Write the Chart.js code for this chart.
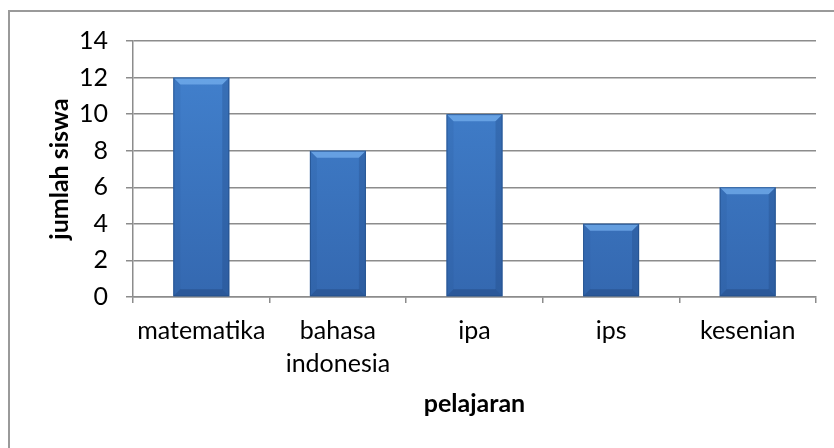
<!DOCTYPE html>
<html>
<head>
<meta charset="utf-8">
<script src="https://cdn.jsdelivr.net/npm/chart.js@4"></script>
<style>
  html, body { margin: 0; padding: 0; background: #fff; }
  #wrap { position: relative; width: 834px; height: 448px; overflow: hidden; }
  #frame {
    position: absolute; left: 8px; top: 10px; width: 900px; height: 500px;
    border-left: 2px solid #9a9a9a; border-top: 2px solid #9a9a9a;
  }
  #chart { position: absolute; left: 0; top: 0; }
</style>
</head>
<body>
<div id="wrap">
  <div id="frame"></div>
  <canvas id="chart" width="834" height="448"></canvas>
</div>
<script>
// data kategori dan nilai
const pelajaran = [['matematika'], ['bahasa', 'indonesia'], ['ipa'], ['ips'], ['kesenian']];
const jumlahSiswa = [12, 8, 10, 4, 6];
const yTicks = [0, 2, 4, 6, 8, 10, 12, 14];
const judulY = 'jumlah siswa';
const judulX = 'pelajaran';

const fontFamily = 'Lato, "Open Sans", sans-serif';
const gridColor = '#8c8c8c';

// judul sumbu y digambar sendiri supaya posisinya pas
const yTitlePlugin = {
    id: 'yTitle',
    afterDraw(chart) {
        const ctx = chart.ctx;
        const area = chart.chartArea;
        ctx.save();
        ctx.translate(area.left - 73, (area.top + area.bottom) / 2);
        ctx.rotate(-Math.PI / 2);
        ctx.font = 'bold 25px ' + fontFamily;
        ctx.fillStyle = '#000';
        ctx.textAlign = 'center';
        ctx.textBaseline = 'middle';
        ctx.fillText(judulY, 0, 0);
        ctx.restore();
    }
};

// efek bevel sederhana pada batang
const bevelPlugin = {
    id: 'bevel',
    afterDatasetsDraw(chart) {
        const ctx = chart.ctx;
        chart.getDatasetMeta(0).data.forEach(function(bar) {
            const left = bar.x - bar.width / 2;
            const right = bar.x + bar.width / 2;
            const top = bar.y;
            const bottom = bar.base;
            const b = 7;
            ctx.save();
            // atas
            ctx.fillStyle = 'rgba(120, 178, 240, 0.7)';
            ctx.beginPath();
            ctx.moveTo(left, top);
            ctx.lineTo(right, top);
            ctx.lineTo(right - b, top + b);
            ctx.lineTo(left + b, top + b);
            ctx.closePath();
            ctx.fill();
            // kiri
            ctx.fillStyle = 'rgba(30, 70, 130, 0.12)';
            ctx.beginPath();
            ctx.moveTo(left, top);
            ctx.lineTo(left + b, top + b);
            ctx.lineTo(left + b, bottom - b);
            ctx.lineTo(left, bottom);
            ctx.closePath();
            ctx.fill();
            // kanan
            ctx.fillStyle = 'rgba(20, 50, 100, 0.2)';
            ctx.beginPath();
            ctx.moveTo(right, top);
            ctx.lineTo(right - b, top + b);
            ctx.lineTo(right - b, bottom - b);
            ctx.lineTo(right, bottom);
            ctx.closePath();
            ctx.fill();
            // bawah
            ctx.fillStyle = 'rgba(15, 40, 85, 0.25)';
            ctx.beginPath();
            ctx.moveTo(left, bottom);
            ctx.lineTo(left + b, bottom - b);
            ctx.lineTo(right - b, bottom - b);
            ctx.lineTo(right, bottom);
            ctx.closePath();
            ctx.fill();
            ctx.strokeStyle = 'rgba(35, 80, 140, 0.8)';
            ctx.lineWidth = 1;
            ctx.strokeRect(left + 0.5, top + 0.5, bar.width - 1, bottom - top - 1);
            ctx.restore();
        });
    }
};

new Chart(document.getElementById('chart'), {
    type: 'bar',
    data: {
        labels: pelajaran,
        datasets: [{
            data: jumlahSiswa,
            backgroundColor: function(context) {
                const area = context.chart.chartArea;
                if (!area) return '#3a76c2';
                const g = context.chart.ctx.createLinearGradient(0, area.top, 0, area.bottom);
                g.addColorStop(0, '#4383d0');
                g.addColorStop(1, '#3468b0');
                return g;
            },
            borderWidth: 0,
            barPercentage: 0.41,
            categoryPercentage: 1
        }]
    },
    options: {
        responsive: false,
        animation: false,
        layout: { padding: { top: 41, right: 18, bottom: 0, left: 0 } },
        plugins: {
            legend: { display: false },
            tooltip: { enabled: false }
        },
        scales: {
            x: {
                grid: {
                    drawOnChartArea: false,
                    drawTicks: true,
                    tickLength: 6,
                    color: gridColor,
                    lineWidth: 1.5
                },
                border: { color: gridColor, width: 1.5 },
                ticks: {
                    color: '#000',
                    padding: 12,
                    maxRotation: 0,
                    autoSkip: false,
                    font: { family: fontFamily, size: 25, lineHeight: 1.3 }
                },
                title: {
                    display: true,
                    text: judulX,
                    color: '#000',
                    padding: { top: 0, bottom: 29 },
                    font: { family: fontFamily, size: 25, weight: 'bold', lineHeight: 1.2 }
                },
                afterFit: function(scale) { scale.height = 151; }
            },
            y: {
                min: 0,
                max: 14,
                afterBuildTicks: function(scale) {
                    scale.ticks = yTicks.map(function(v) { return { value: v }; });
                },
                grid: {
                    color: gridColor,
                    lineWidth: 1.5,
                    tickLength: 7
                },
                border: { color: gridColor, width: 1.5 },
                ticks: {
                    color: '#000',
                    padding: 18,
                    font: { family: fontFamily, size: 25 }
                },
                afterFit: function(scale) { scale.width = 133; }
            }
        }
    },
    plugins: [bevelPlugin, yTitlePlugin]
});
</script>
</body>
</html>
